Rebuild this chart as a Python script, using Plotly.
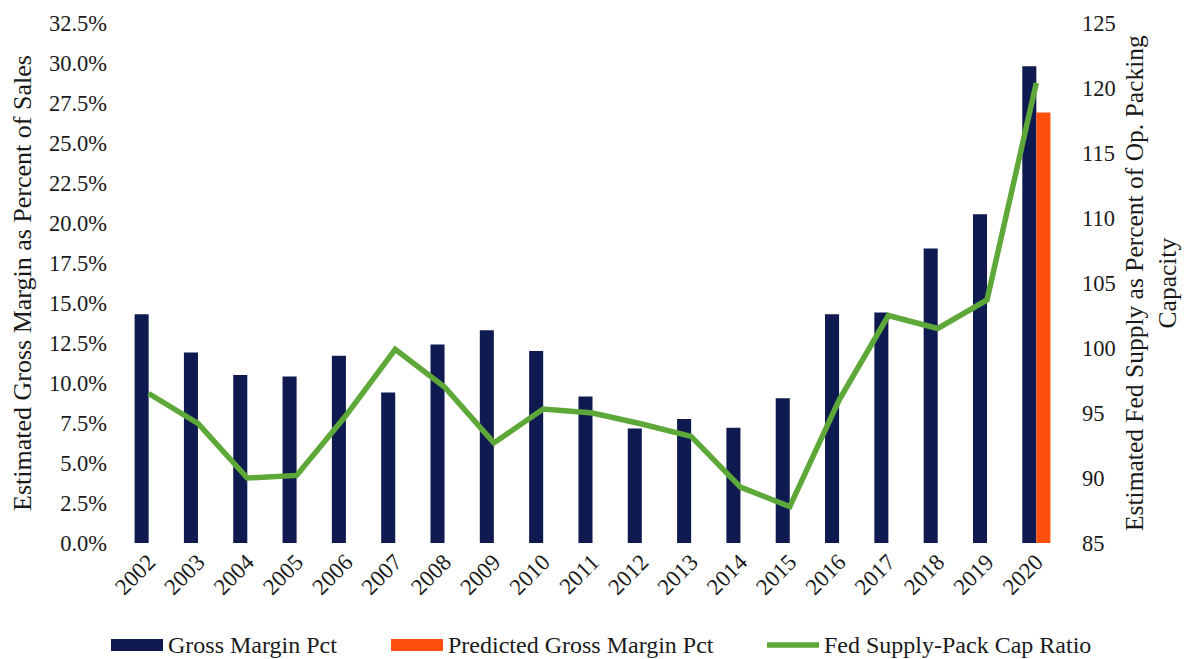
import plotly.graph_objects as go

# Annual series
years = [str(y) for y in range(2002, 2021)]
gross_margin_pct = [14.3, 11.9, 10.5, 10.4, 11.7, 9.4, 12.4, 13.3, 12.0, 9.15,
                    7.15, 7.75, 7.2, 9.05, 14.3, 14.4, 18.4, 20.55, 29.8]
predicted_gross_margin_pct = [None] * 18 + [26.9]
fed_supply_pack_cap_ratio = [96.5, 94.2, 90.0, 90.2, 94.8, 99.9, 97.0, 92.7, 95.3, 95.0,
                             94.15, 93.2, 89.3, 87.8, 96.0, 102.5, 101.5, 103.7, 120.4]

left_ticks = [i * 2.5 for i in range(14)]
right_ticks = list(range(85, 126, 5))

NAVY = "#0F1A50"
ORANGE = "#FF4F0C"
GREEN = "#5DA838"
FONT = "Liberation Serif"

fig = go.Figure()
fig.add_trace(go.Bar(x=years, y=gross_margin_pct, name="Gross Margin Pct",
                     marker=dict(color=NAVY, line=dict(width=0))))
fig.add_trace(go.Bar(x=years, y=predicted_gross_margin_pct, name="Predicted Gross Margin Pct",
                     marker=dict(color=ORANGE, line=dict(width=0))))
fig.add_trace(go.Scatter(x=years, y=fed_supply_pack_cap_ratio, name="Fed Supply-Pack Cap Ratio",
                         mode="lines", line=dict(color=GREEN, width=5.5), yaxis="y2"))

fig.update_layout(
    width=1185, height=659,
    margin=dict(l=124, r=124, t=23, b=116),
    paper_bgcolor="white", plot_bgcolor="white",
    barmode="group", bargap=0.43, bargroupgap=0,
    showlegend=False,
    font=dict(family=FONT, size=22, color="#1a1a1a"),
    xaxis=dict(type="category", tickangle=-45, showgrid=False, zeroline=False,
               showline=False, ticks="", tickfont=dict(size=23)),
    yaxis=dict(range=[0, 32.5], tickvals=left_ticks,
               ticktext=[f"{v:.1f}%" for v in left_ticks],
               showgrid=False, zeroline=False, showline=False,
               ticks="", ticklabelstandoff=16, tickfont=dict(size=22.5)),
    yaxis2=dict(range=[85, 125], tickvals=right_ticks, overlaying="y", side="right",
                showgrid=False, zeroline=False, showline=False,
                ticks="", ticklabelstandoff=20, tickfont=dict(size=22.5)),
)

# Axis titles
fig.add_annotation(text="Estimated Gross Margin as Percent of Sales",
                   xref="paper", yref="paper", x=0.0, y=0.5,
                   xanchor="center", yanchor="middle",
                   xshift=-102, textangle=-90, showarrow=False,
                   font=dict(size=26, family=FONT, color="#1a1a1a"))
fig.add_annotation(text="Estimated Fed Supply as Percent of Op. Packing<br>Capacity",
                   xref="paper", yref="paper", x=1.0, y=0.5,
                   xanchor="center", yanchor="middle",
                   xshift=90, textangle=-90, showarrow=False,
                   font=dict(size=25.5, family=FONT, color="#1a1a1a"))

# Legend row along the bottom
legend_items = [
    ("Gross Margin Pct", NAVY, "bar", 111),
    ("Predicted Gross Margin Pct", ORANGE, "bar", 391),
    ("Fed Supply-Pack Cap Ratio", GREEN, "line", 767),
]
legend_y = 645
for label, color, kind, x0 in legend_items:
    if kind == "bar":
        fig.add_shape(type="rect", xref="paper", yref="paper",
                      x0=(x0 - 124) / 937, x1=(x0 + 52 - 124) / 937,
                      y0=(543 - legend_y - 6) / 520, y1=(543 - legend_y + 6) / 520,
                      fillcolor=color, line=dict(width=0))
    else:
        fig.add_shape(type="line", xref="paper", yref="paper",
                      x0=(x0 - 124) / 937, x1=(x0 + 52 - 124) / 937,
                      y0=(543 - legend_y) / 520, y1=(543 - legend_y) / 520,
                      line=dict(color=color, width=5.5))
    fig.add_annotation(text=label, xref="paper", yref="paper",
                       x=(x0 + 55 - 124) / 937, y=(543 - legend_y) / 520,
                       xanchor="left", yanchor="middle", showarrow=False,
                       font=dict(size=24, family=FONT, color="#1a1a1a"))

fig.write_html("out.html")
